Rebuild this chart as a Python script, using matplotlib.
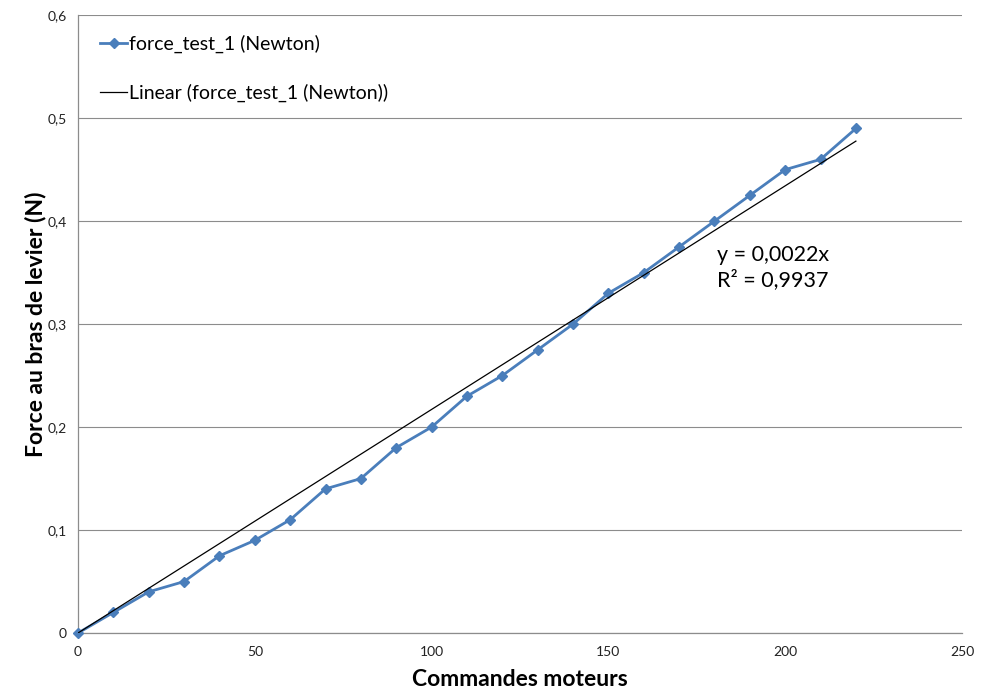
import matplotlib.pyplot as plt
import numpy as np
from matplotlib.ticker import FuncFormatter

plt.rcParams["font.family"] = ["Lato", "DejaVu Sans"]

# motor commands and measured lever-arm force
commands = [0, 10, 20, 30, 40, 50, 60, 70, 80, 90, 100, 110,
            120, 130, 140, 150, 160, 170, 180, 190, 200, 210, 220]
force_n = [0, 0.02, 0.04, 0.05, 0.075, 0.09, 0.11, 0.14, 0.15, 0.18, 0.20, 0.23,
           0.25, 0.275, 0.30, 0.33, 0.35, 0.375, 0.40, 0.425, 0.45, 0.46, 0.49]

x = np.array(commands, dtype=float)
y = np.array(force_n)

# least-squares line through the origin
slope = np.sum(x * y) / np.sum(x * x)
fit = slope * x
r2 = 1 - np.sum((y - fit) ** 2) / np.sum((y - y.mean()) ** 2)

fig = plt.figure(figsize=(9.91, 6.88), dpi=100)
ax = fig.add_axes([0.0787, 0.0799, 0.892, 0.898])

ax.plot(x, y, color="#4a7ebb", linewidth=2, marker="D", markersize=5.5,
        label="force_test_1 (Newton)", clip_on=False, zorder=3)
ax.plot([x[0], x[-1]], [fit[0], fit[-1]], color="black", linewidth=0.9,
        label="Linear (force_test_1 (Newton))", zorder=4)

ax.set_xlim(0, 250)
ax.set_ylim(0, 0.6)
ax.set_xticks(np.arange(0, 251, 50))
ax.set_yticks(np.arange(0, 0.61, 0.1))
ax.yaxis.set_major_formatter(FuncFormatter(lambda v, _: "0" if v == 0 else f"{v:.1f}".replace(".", ",")))
ax.tick_params(length=0, labelsize=10, colors="#222222")
ax.tick_params(axis="x", pad=9)
ax.tick_params(axis="y", pad=8)
ax.grid(axis="y", color="#8c8c8c", linewidth=0.8)
ax.set_axisbelow(True)

for side in ("top", "right"):
    ax.spines[side].set_visible(False)
for side in ("left", "bottom"):
    ax.spines[side].set_color("#8c8c8c")
    ax.spines[side].set_linewidth(0.9)
    ax.spines[side].set_zorder(1)

ax.set_xlabel("Commandes moteurs", fontsize=16.5, fontweight="bold", labelpad=8)
ax.set_ylabel("Force au bras de levier (N)", fontsize=16.5, fontweight="bold", labelpad=1)

ax.text(0.723, 0.555, f"y = {slope:.4f}x".replace(".", ",") + "\n" +
        f"R² = {r2:.4f}".replace(".", ","),
        transform=ax.transAxes, fontsize=15.5, linespacing=1.25, va="bottom")

ax.legend(loc="upper left", bbox_to_anchor=(0.005, 0.997), frameon=False,
          fontsize=14, labelspacing=1.6, handlelength=1.4, handletextpad=0.1)

fig.savefig("out.png", dpi=100)
